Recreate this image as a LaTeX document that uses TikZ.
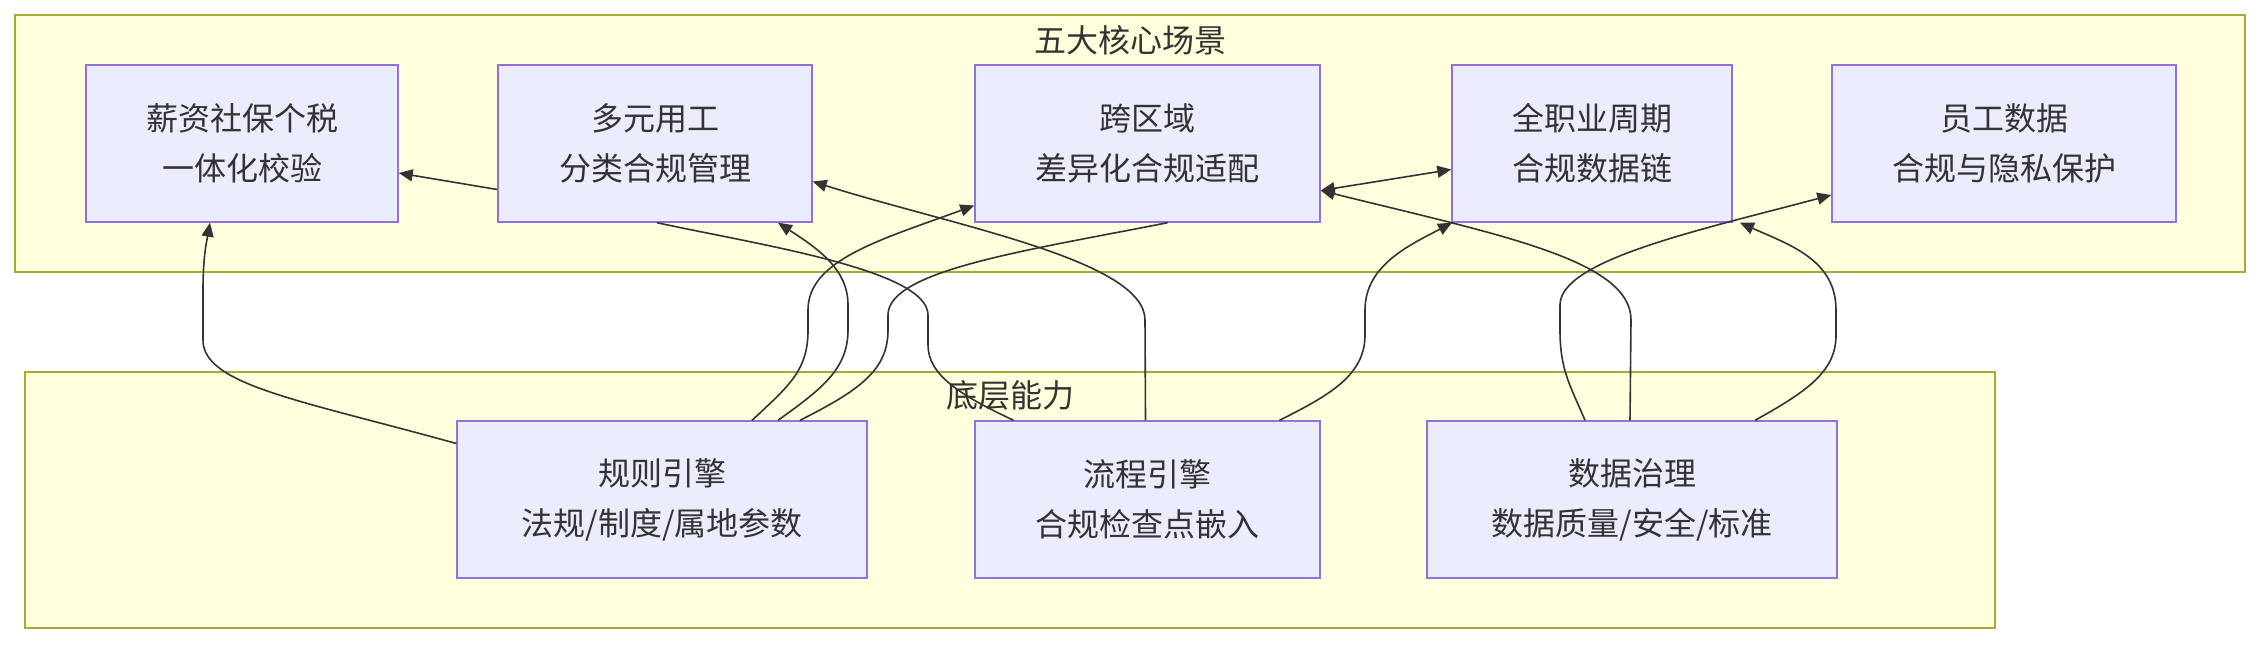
\documentclass[tikz,border=0pt]{standalone}
\usepackage{fontspec}
\setmainfont{Noto Sans CJK SC}
\usetikzlibrary{arrows.meta}
\definecolor{nfill}{HTML}{ECECFF}
\definecolor{nbord}{HTML}{9370DB}
\definecolor{cfill}{HTML}{FFFFDE}
\definecolor{cbord}{HTML}{AAAA33}
\definecolor{ln}{HTML}{333333}
\begin{document}
\begin{tikzpicture}[x=0.5pt,y=-0.5pt,
  nd/.style={draw=nbord,fill=nfill,line width=0.7pt,minimum height=78.5pt,align=center,font=\fontsize{16pt}{25pt}\selectfont,text=ln,inner sep=0pt},
  cl/.style={draw=cbord,fill=cfill,line width=0.7pt},
  ttl/.style={font=\fontsize{16pt}{18pt}\selectfont,text=ln},
  ed/.style={draw=ln,line width=0.8pt,-{Triangle[length=7pt,width=6pt]}},
  ep/.style={draw=ln,line width=0.8pt}]
\useasboundingbox (0,0) rectangle (2260,644);
\fill[white] (0,0) rectangle (2260,644);
\draw[cl] (15,15) rectangle (2245,272);
\node[ttl] (t1) at (1130,40) {五大核心场景};
\draw[cl] (25,372) rectangle (1995,628);
\node[ttl] (t2) at (1010,395) {底层能力};
\node[nd,minimum width=156pt] (A) at (242,143.5) {薪资社保个税\\一体化校验};
\node[nd,minimum width=157pt] (B) at (655,143.5) {多元用工\\分类合规管理};
\node[nd,minimum width=172.5pt] (C) at (1147.5,143.5) {跨区域\\差异化合规适配};
\node[nd,minimum width=140pt] (D) at (1592,143.5) {全职业周期\\合规数据链};
\node[nd,minimum width=172pt] (E) at (2004,143.5) {员工数据\\合规与隐私保护};
\node[nd,minimum width=205pt] (R) at (662,499.5) {规则引擎\\法规/制度/属地参数};
\node[nd,minimum width=172.5pt] (P) at (1147.5,499.5) {流程引擎\\合规检查点嵌入};
\node[nd,minimum width=205pt] (G) at (1632,499.5) {数据治理\\数据质量/安全/标准};
% straight edges
\draw[ed] ([yshift=-23pt]B.west) -- ([yshift=-14.75pt]A.east);
\draw[ed,{Triangle[length=7pt,width=6pt]}-{Triangle[length=7pt,width=6pt]}] ([yshift=-23.5pt]C.east) -- ([yshift=-13pt]D.west);
% R -> A
\draw[ed] ([yshift=28pt]R.west) .. controls (300,400) and (203,385) .. (203,340) -- (203,290) .. controls (203,255) and (207,240) .. ([xshift=-16pt]A.south);
% R -> C
\draw[ed] ([xshift=45pt]R.north) .. controls (790,385) and (808,370) .. (808,330) -- (808,310) .. controls (808,260) and (880,240) .. ([yshift=-31pt]C.west);
% R -> B
\draw[ed] ([xshift=58pt]R.north) .. controls (820,390) and (848,370) .. (848,330) -- (848,305) .. controls (848,270) and (820,250) .. ([xshift=61.5pt]B.south);
% R - C bottom
\draw[ep] ([xshift=69pt]R.north) .. controls (860,390) and (888,370) .. (888,330) -- (888,315) .. controls (888,270) and (1030,250) .. ([xshift=10pt]C.south);
% B bottom - P
\draw[ep] ([xshift=1pt]B.south) .. controls (760,245) and (928,270) .. (928,315) -- (928,345) .. controls (928,375) and (960,395) .. ([xshift=-67pt]P.north);
% P -> B
\draw[ed] ([xshift=-1pt]P.north) -- (1145,320) .. controls (1145,260) and (950,225) .. ([yshift=-19pt]B.east);
% P -> D
\draw[ed] ([xshift=66pt]P.north) .. controls (1330,395) and (1365,375) .. (1365,335) -- (1365,310) .. controls (1365,265) and (1410,245) .. ([xshift=-70pt]D.south);
% G -> E
\draw[ed] ([xshift=-23.5pt]G.north) .. controls (1570,385) and (1560,370) .. (1560,330) -- (1560,305) .. controls (1560,260) and (1700,230) .. ([yshift=-25.75pt]E.west);
% G -> C
\draw[ed] ([xshift=-1pt]G.north) -- (1631,320) .. controls (1631,260) and (1500,235) .. ([yshift=-23.5pt]C.east);
% G -> D
\draw[ed] ([xshift=61.5pt]G.north) .. controls (1810,390) and (1836,370) .. (1836,335) -- (1836,310) .. controls (1836,260) and (1790,245) .. ([xshift=74pt]D.south);
\end{tikzpicture}
\end{document}
